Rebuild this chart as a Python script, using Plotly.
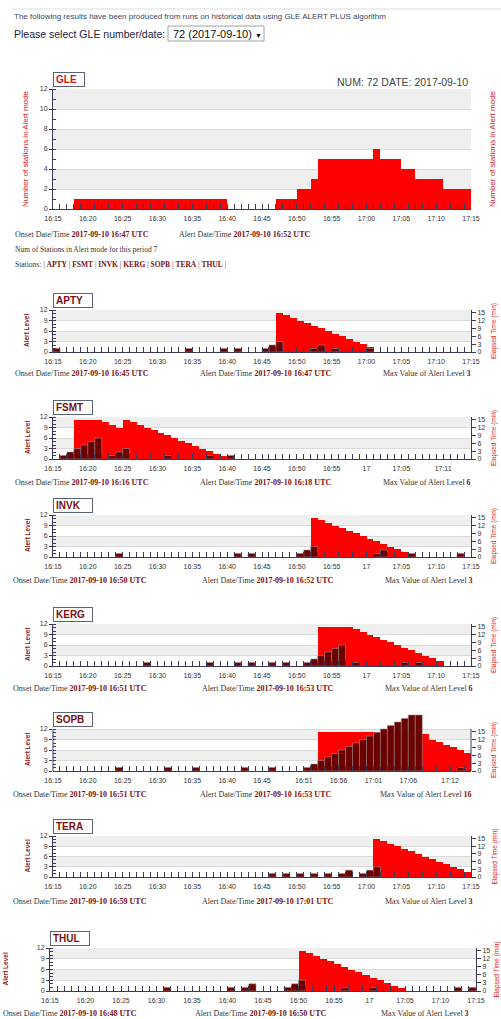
import plotly.graph_objects as go

W, H = 501, 1019

# ------------------------------------------------------------------ data
minutes_after_1615 = list(range(60))  # one bin per minute, 16:15 .. 17:14

gle_number = 72
gle_date = "2017-09-10"
gle_onset = "2017-09-10 16:47 UTC"
gle_alert = "2017-09-10 16:52 UTC"
gle_num_stations = 7
gle_tick_labels = ["16:15", "16:20", "16:25", "16:30", "16:35", "16:40", "16:45",
                   "16:50", "16:55", "17:00", "17:05", "17:10", "17:15"]
gle_stations_in_alert = [
    0, 0, 0, 1, 1, 1, 1, 1, 1, 1,
    1, 1, 1, 1, 1, 1, 1, 1, 1, 1,
    1, 1, 1, 1, 1, 0, 0, 0, 0, 0,
    0, 0, 1, 1, 1, 2, 2, 3, 5, 5,
    5, 5, 5, 5, 5, 5, 6, 5, 5, 5,
    4, 4, 3, 3, 3, 3, 2, 2, 2, 2]

station_names = ["APTY", "FSMT", "INVK", "KERG", "SOPB", "TERA", "THUL"]
station_onset = ["2017-09-10 16:45 UTC", "2017-09-10 16:16 UTC", "2017-09-10 16:50 UTC",
                 "2017-09-10 16:51 UTC", "2017-09-10 16:51 UTC", "2017-09-10 16:59 UTC",
                 "2017-09-10 16:48 UTC"]
station_alert = ["2017-09-10 16:47 UTC", "2017-09-10 16:18 UTC", "2017-09-10 16:52 UTC",
                 "2017-09-10 16:53 UTC", "2017-09-10 16:53 UTC", "2017-09-10 17:01 UTC",
                 "2017-09-10 16:50 UTC"]
station_max_level = [3, 6, 3, 6, 16, 3, 3]

apty_tick_labels = ["16:15", "16:20", "16:25", "16:30", "16:35", "16:40", "16:45",
                    "16:50", "16:55", "17:00", "17:05", "17:10", "17:15"]
fsmt_tick_labels = ["16:15", "16:20", "16:25", "16:30", "16:35", "16:40", "16:45",
                    "16:50", "16:55", "17", "17:05", "17:11"]
invk_tick_labels = ["16:15", "16:20", "16:25", "16:30", "16:35", "16:40", "16:45",
                    "16:50", "16:55", "17", "17:05", "17:10", "17:15"]
kerg_tick_labels = ["16:15", "16:20", "16:25", "16:30", "16:35", "16:40", "16:45",
                    "16:50", "16:55", "17", "17:05", "17:10", "17:15"]
sopb_tick_labels = ["16:15", "16:20", "16:25", "16:30", "16:35", "16:40", "16:45",
                    "16:51", "16:56", "17:01", "17:06", "17:12"]
tera_tick_labels = ["16:15", "16:20", "16:25", "16:30", "16:35", "16:40", "16:45",
                    "16:50", "16:55", "17:00", "17:05", "17:10", "17:15"]
thul_tick_labels = ["16:15", "16:20", "16:25", "16:30", "16:35", "16:40", "16:45",
                    "16:50", "16:55", "17", "17:05", "17:10", "17:15"]

apty_alert_level = [
    1, 0, 0, 0, 0, 0, 0, 0, 0, 0,
    0, 0, 0, 0, 0, 0, 0, 0, 0, 1,
    0, 0, 0, 0, 1, 0, 1, 0, 0, 0,
    1, 2, 3, 0, 0, 0, 0, 1, 2, 0,
    1, 0, 0, 0, 0, 1, 0, 0, 0, 0,
    0, 0, 0, 0, 0, 0, 0, 0, 0, 0]
apty_elapsed_time = [
    0, 0, 0, 0, 0, 0, 0, 0, 0, 0,
    0, 0, 0, 0, 0, 0, 0, 0, 0, 0,
    0, 0, 0, 0, 0, 0, 0, 0, 0, 0,
    0, 0, 15, 14, 13, 12, 11, 10, 9, 8,
    7, 6, 5, 4, 3, 2, 0, 0, 0, 0,
    0, 0, 0, 0, 0, 0, 0, 0, 0, 0]

fsmt_alert_level = [
    0, 1, 2, 3, 4, 5, 6, 0, 1, 2,
    3, 0, 0, 0, 0, 0, 1, 0, 0, 0,
    0, 0, 1, 0, 0, 1, 0, 0, 0, 0,
    0, 0, 0, 0, 0, 0, 0, 0, 0, 0,
    0, 0, 0, 0, 0, 0, 0, 0, 0, 0,
    0, 0, 0, 0, 0, 0, 0, 0, 0, 0]
fsmt_elapsed_time = [
    0, 0, 0, 15, 15, 15, 15, 14, 13, 12,
    15, 14, 13, 12, 11, 10, 9, 8, 7, 6,
    5, 4, 3, 2, 1, 0, 0, 0, 0, 0,
    0, 0, 0, 0, 0, 0, 0, 0, 0, 0,
    0, 0, 0, 0, 0, 0, 0, 0, 0, 0,
    0, 0, 0, 0, 0, 0, 0, 0, 0, 0]

invk_alert_level = [
    0, 0, 0, 0, 0, 0, 0, 0, 0, 1,
    0, 0, 0, 0, 0, 0, 0, 0, 0, 0,
    0, 0, 0, 0, 0, 0, 1, 0, 1, 0,
    0, 0, 0, 0, 0, 1, 2, 3, 0, 0,
    0, 0, 0, 0, 0, 0, 1, 2, 0, 0,
    0, 1, 0, 0, 0, 0, 0, 0, 1, 0]
invk_elapsed_time = [
    0, 0, 0, 0, 0, 0, 0, 0, 0, 0,
    0, 0, 0, 0, 0, 0, 0, 0, 0, 0,
    0, 0, 0, 0, 0, 0, 0, 0, 0, 0,
    0, 0, 0, 0, 0, 0, 0, 15, 14, 13,
    12, 11, 10, 9, 8, 7, 6, 5, 4, 3,
    2, 1, 0, 0, 0, 0, 0, 0, 0, 0]

kerg_alert_level = [
    0, 0, 0, 0, 0, 0, 0, 0, 0, 0,
    0, 0, 0, 1, 0, 0, 0, 0, 0, 0,
    0, 0, 1, 0, 0, 0, 1, 0, 1, 0,
    0, 1, 0, 1, 0, 0, 1, 2, 3, 4,
    5, 6, 0, 1, 0, 0, 0, 0, 0, 0,
    1, 0, 1, 0, 0, 0, 0, 0, 0, 0]
kerg_elapsed_time = [
    0, 0, 0, 0, 0, 0, 0, 0, 0, 0,
    0, 0, 0, 0, 0, 0, 0, 0, 0, 0,
    0, 0, 0, 0, 0, 0, 0, 0, 0, 0,
    0, 0, 0, 0, 0, 0, 0, 0, 15, 15,
    15, 15, 15, 14, 13, 12, 11, 10, 9, 8,
    7, 6, 5, 4, 3, 2, 0, 0, 0, 0]

sopb_alert_level = [
    0, 0, 0, 0, 0, 0, 0, 0, 0, 1,
    0, 0, 0, 0, 0, 0, 1, 0, 0, 0,
    1, 0, 0, 0, 0, 0, 0, 1, 0, 0,
    0, 1, 0, 0, 0, 0, 1, 2, 3, 4,
    5, 6, 7, 8, 9, 10, 11, 12, 13, 14,
    15, 16, 16, 0, 0, 0, 0, 0, 1, 0]
sopb_elapsed_time = [
    0, 0, 0, 0, 0, 0, 0, 0, 0, 0,
    0, 0, 0, 0, 0, 0, 0, 0, 0, 0,
    0, 0, 0, 0, 0, 0, 0, 0, 0, 0,
    0, 0, 0, 0, 0, 0, 0, 0, 15, 15,
    15, 15, 15, 15, 15, 15, 15, 15, 15, 15,
    15, 15, 15, 14, 12, 11, 10, 9, 8, 7]

tera_alert_level = [
    0, 0, 0, 0, 0, 0, 0, 0, 0, 0,
    0, 0, 0, 0, 0, 0, 0, 0, 0, 0,
    0, 0, 0, 0, 0, 0, 0, 0, 0, 0,
    0, 1, 0, 1, 0, 1, 0, 1, 0, 1,
    0, 1, 2, 0, 1, 2, 3, 0, 0, 0,
    0, 0, 0, 0, 0, 0, 0, 0, 0, 0]
tera_elapsed_time = [
    0, 0, 0, 0, 0, 0, 0, 0, 0, 0,
    0, 0, 0, 0, 0, 0, 0, 0, 0, 0,
    0, 0, 0, 0, 0, 0, 0, 0, 0, 0,
    0, 0, 0, 0, 0, 0, 0, 0, 0, 0,
    0, 0, 0, 0, 0, 0, 15, 14, 13, 12,
    11, 10, 9, 8, 7, 6, 5, 4, 3, 2]

thul_alert_level = [
    0, 0, 0, 0, 0, 0, 0, 0, 0, 0,
    0, 0, 0, 0, 0, 0, 1, 0, 0, 0,
    0, 0, 0, 0, 0, 1, 0, 1, 2, 0,
    0, 0, 0, 1, 2, 3, 0, 0, 0, 0,
    0, 1, 0, 0, 0, 1, 0, 0, 0, 0,
    0, 0, 0, 0, 0, 0, 0, 1, 0, 1]
thul_elapsed_time = [
    0, 0, 0, 0, 0, 0, 0, 0, 0, 0,
    0, 0, 0, 0, 0, 0, 0, 0, 0, 0,
    0, 0, 0, 0, 0, 0, 0, 0, 0, 0,
    0, 0, 0, 0, 0, 15, 14, 13, 12, 11,
    10, 9, 8, 7, 6, 5, 4, 3, 2, 1,
    0, 0, 0, 0, 0, 0, 0, 0, 0, 0]

station_alert_levels = [apty_alert_level, fsmt_alert_level, invk_alert_level, kerg_alert_level,
                        sopb_alert_level, tera_alert_level, thul_alert_level]
station_elapsed = [apty_elapsed_time, fsmt_elapsed_time, invk_elapsed_time, kerg_elapsed_time,
                   sopb_elapsed_time, tera_elapsed_time, thul_elapsed_time]
station_tick_labels = [apty_tick_labels, fsmt_tick_labels, invk_tick_labels, kerg_tick_labels,
                       sopb_tick_labels, tera_tick_labels, thul_tick_labels]

# ------------------------------------------------------------------ layout geometry (pixels)
GLE_BOX = (53, 471, 89, 209)
STATION_BOX = [(53, 471, 310, 352), (53, 471, 417, 459), (53, 471, 515, 557),
               (53, 471, 624, 666), (53, 471, 729, 771), (53, 471, 836, 877),
               (50, 476, 948, 991)]
STATION_INFO_Y = [373, 482, 580, 688, 794, 901, 1013]
STATION_ONSET_X = [13, 13, 11, 11, 11, 11, 1]
STATION_ALERT_X = [198, 198, 200, 200, 198, 200, 193]
STATION_MAX_X = [381, 381, 383, 383, 378, 383, 379]
STATION_LTITLE_X = [27, 27, 27, 27, 27, 27, 5]
STATION_RTITLE_X = [494, 494, 494, 494, 494, 494, 496]

RED = "#ff0000"
MAROON = "#6a0000"
AXIS = "#3a3a5c"
BAND = "#efefef"
GRID = "#dadada"
TXT = "#333333"
DARKRED = "#7a1010"
LEFT_RANGE = 12
RIGHT_RANGE = 16

SANS = "Liberation Sans"
SERIF = "Liberation Serif"
INFO_SIZE = 8


def xd(a, b):
    return [a / W, b / W]


def yd(top, bottom):
    return [1 - bottom / H, 1 - top / H]


def px(x):
    return x / W


def py(y):
    return 1 - y / H


def minute_pos(label):
    parts = label.split(":")
    h = int(parts[0])
    m = int(parts[1]) if len(parts) > 1 else 0
    return h * 60 + m - (16 * 60 + 15)


def nz(vals):
    return [v if v else None for v in vals]


tickfont = dict(family=SANS, size=7, color=TXT)


def x_axis(box, anchor, labels):
    return dict(domain=xd(box[0], box[1]), range=[0, 60], anchor=anchor,
                showline=True, linecolor=AXIS, linewidth=1, zeroline=False, showgrid=False,
                fixedrange=True, automargin=False, layer="above traces",
                tickmode="array", tickvals=[minute_pos(l) for l in labels], ticktext=labels,
                ticks="inside", ticklen=5, tickcolor=AXIS, tickwidth=1, tickfont=tickfont,
                ticklabelstandoff=3,
                minor=dict(tickmode="array", tickvals=list(range(61)), ticks="inside",
                           ticklen=5, tickcolor=AXIS, tickwidth=1, showgrid=False))


def y_axis(top_px, bottom_px, anchor, rng, tick_max, step, side, grid, overlaying=None,
           minor=True, ticklen=3, showline=True):
    d = dict(range=[0, rng], anchor=anchor, side=side, showline=showline, linecolor=AXIS,
             linewidth=1, zeroline=False, fixedrange=True, automargin=False,
             tickmode="array", tickvals=list(range(0, tick_max + 1, step)),
             ticks="outside", ticklen=ticklen, tickcolor=AXIS, tickfont=tickfont,
             showgrid=grid, gridcolor=GRID, gridwidth=1)
    if minor:
        d["minor"] = dict(tickmode="array", tickvals=list(range(0, tick_max + 1)),
                          ticks="inside", ticklen=3, tickcolor=AXIS, showgrid=False)
    if overlaying:
        d["overlaying"] = overlaying
    else:
        d["domain"] = yd(top_px, bottom_px)
    return d


fig = go.Figure()
layout = {}
shapes = []
annotations = []


def ann(text, x, y, size, color, family=SERIF, xanchor="left", yanchor="middle", **kw):
    d = dict(text=text, x=px(x), y=py(y), xref="paper", yref="paper", showarrow=False,
             xanchor=xanchor, yanchor=yanchor, font=dict(family=family, size=size, color=color))
    d.update(kw)
    return d


def bold_red(s):
    return f"<b><span style='color:{DARKRED}'>{s}</span></b>"


def title_box(name, box, color, width):
    return dict(text=f"<b>{name}</b>", x=px(box[0]), y=py(box[2] - 2), xref="paper", yref="paper",
                showarrow=False, xanchor="left", yanchor="bottom", align="left",
                bordercolor="#5a6378", borderwidth=1, borderpad=2, bgcolor="white",
                width=width, height=9, font=dict(family=SANS, size=10, color=color))


# ------------------------------------------------------------------ header
shapes.append(dict(type="line", xref="paper", yref="paper", x0=px(12), x1=1, y0=py(9), y1=py(9),
                   line=dict(color="#dddddd", width=1)))
annotations.append(ann("The following results have been produced from runs on historical data "
                       "using GLE ALERT PLUS algorithm", 12, 16, 8, "#3d4660", family=SANS))
annotations.append(ann("Please select GLE number/date:", 12, 33.5, 10.5, "#1c1c3a", family=SANS))
shapes.append(dict(type="rect", xref="paper", yref="paper", x0=px(168), x1=px(264),
                   y0=py(41), y1=py(26), line=dict(color="#a0a0a0", width=1), fillcolor="white"))
annotations.append(ann(f"{gle_number} ({gle_date}) <span style='font-size:7px'>▼</span>",
                       171, 33.5, 11, "#111111", family=SANS))

# ------------------------------------------------------------------ GLE panel
layout["xaxis"] = x_axis(GLE_BOX, "y", gle_tick_labels)
layout["yaxis"] = y_axis(GLE_BOX[2], GLE_BOX[3], "x", 12, 12, 2, "left", True)
layout["yaxis2"] = y_axis(GLE_BOX[2], GLE_BOX[3], "x", 12, 12, 2, "right", False,
                          overlaying="y")
fig.add_trace(go.Bar(x=minutes_after_1615, y=nz(gle_stations_in_alert), width=1, offset=0,
                     marker=dict(color=RED, line=dict(width=0)), xaxis="x", yaxis="y",
                     hoverinfo="skip"))
for lo in (2, 6, 10):
    shapes.append(dict(type="rect", xref="x", yref="y", x0=0, x1=60, y0=lo, y1=lo + 2,
                       fillcolor=BAND, line=dict(width=0), layer="below"))
annotations.append(title_box("GLE", GLE_BOX, "#d01818", 26))
annotations.append(ann(f"NUM: {gle_number} DATE: {gle_date}", 470, 82, 10.5, "#444444",
                       family=SANS, xanchor="right"))
mid = (GLE_BOX[2] + GLE_BOX[3]) / 2
annotations.append(ann("Number of stations in Alert mode", 25, mid, 8, "#d42020", family=SANS,
                       xanchor="center", textangle=-90))
annotations.append(ann("Number of stations in Alert mode", 492, mid, 8, "#d42020", family=SANS,
                       xanchor="center", textangle=-90))
annotations.append(ann(f"Onset Date/Time {bold_red(gle_onset)}", 13, 234, INFO_SIZE, TXT))
annotations.append(ann(f"Alert Date/Time {bold_red(gle_alert)}", 177, 234, INFO_SIZE, TXT))
annotations.append(ann(f"Num of Stations in Alert mode for this period {gle_num_stations}",
                       13, 249, 7.5, TXT))
annotations.append(ann("Stations: | " + " | ".join(bold_red(s) for s in station_names) + " |",
                       13, 264, 7.5, TXT))

# ------------------------------------------------------------------ station panels
for i, name in enumerate(station_names):
    p = i + 1
    box = STATION_BOX[i]
    left, right, top, bottom = box
    xid = p + 1
    base = 2 * p + 1
    ov = 2 * p + 2
    xname = f"x{xid}"

    # alert levels above the axis top spill over the frame, as on the original page:
    # the plotting area is stretched upward while ticks and frame stay at 0..12
    top_level = max(LEFT_RANGE, max(station_alert_levels[i]) + 1)
    stretch = top_level / LEFT_RANGE
    spill = stretch > 1
    ext_top = bottom - (bottom - top) * stretch

    layout[f"xaxis{xid}"] = x_axis(box, f"y{base}", station_tick_labels[i])
    layout[f"yaxis{base}"] = y_axis(ext_top, bottom, xname, RIGHT_RANGE * stretch, 15, 3,
                                    "right", False, minor=False, ticklen=4,
                                    showline=not spill)
    layout[f"yaxis{ov}"] = y_axis(ext_top, bottom, xname, LEFT_RANGE * stretch, LEFT_RANGE, 3,
                                  "left", True, overlaying=f"y{base}", showline=not spill)

    fig.add_trace(go.Bar(x=minutes_after_1615, y=nz(station_elapsed[i]), width=1, offset=0,
                         marker=dict(color=RED, line=dict(width=0)), xaxis=xname,
                         yaxis=f"y{base}", hoverinfo="skip"))
    fig.add_trace(go.Bar(x=minutes_after_1615, y=nz(station_alert_levels[i]), width=1, offset=0,
                         marker=dict(color=MAROON, line=dict(width=0.6, color="#9a8a8a")),
                         xaxis=xname, yaxis=f"y{ov}", hoverinfo="skip"))

    scale = RIGHT_RANGE / LEFT_RANGE
    for lo in (3, 9):
        shapes.append(dict(type="rect", xref=xname, yref=f"y{base}", x0=0, x1=60,
                           y0=lo * scale, y1=(lo + 3) * scale,
                           fillcolor=BAND, line=dict(width=0), layer="below"))
    if spill:
        for xe in (left, right):
            shapes.append(dict(type="line", xref="paper", yref=f"y{base}", x0=px(xe), x1=px(xe),
                               y0=0, y1=RIGHT_RANGE, line=dict(color=AXIS, width=1)))

    annotations.append(title_box(name, box, DARKRED, 34))
    mid = (top + bottom) / 2
    annotations.append(ann("<b>Alert Level</b>", STATION_LTITLE_X[i], mid, 6.5, "#8a1a1a",
                           family=SANS, xanchor="center", textangle=-90))
    annotations.append(ann("Elapsed Time (min)", STATION_RTITLE_X[i], mid, 6.5, "#e02020",
                           family=SANS, xanchor="center", textangle=-90))
    yinfo = STATION_INFO_Y[i]
    annotations.append(ann(f"Onset Date/Time {bold_red(station_onset[i])}",
                           STATION_ONSET_X[i], yinfo, INFO_SIZE, TXT))
    annotations.append(ann(f"Alert Date/Time {bold_red(station_alert[i])}",
                           STATION_ALERT_X[i], yinfo, INFO_SIZE, TXT))
    annotations.append(ann(f"Max Value of Alert Level {bold_red(station_max_level[i])}",
                           STATION_MAX_X[i], yinfo, INFO_SIZE, TXT))

fig.update_layout(**layout)
fig.update_layout(width=W, height=H, autosize=False, margin=dict(l=0, r=0, t=0, b=0),
                  paper_bgcolor="white", plot_bgcolor="rgba(0,0,0,0)", showlegend=False,
                  barmode="overlay", bargap=0, shapes=shapes, annotations=annotations,
                  font=dict(family=SANS, color=TXT))
fig.write_html("out.html", config={"displayModeBar": False, "staticPlot": True},
               post_script="document.body.style.margin='0';document.body.style.overflow='hidden';")
